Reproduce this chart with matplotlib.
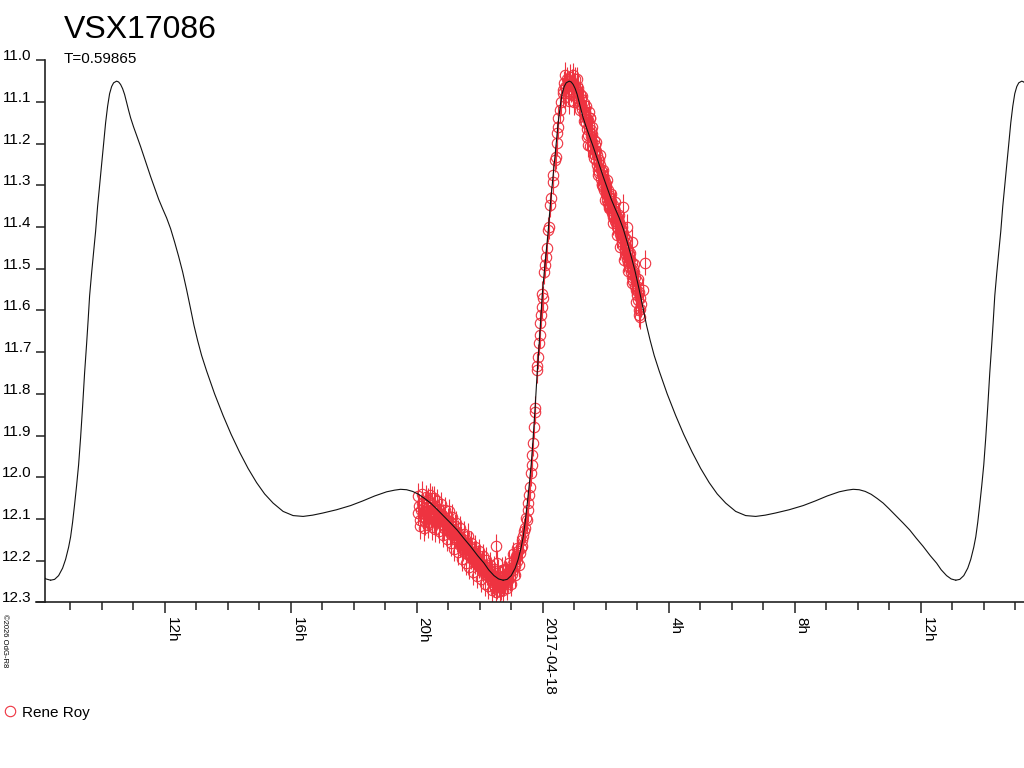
import numpy as np
import pandas as pd
import matplotlib
matplotlib.use("Agg")
import matplotlib.pyplot as plt
import matplotlib.dates as mdates
from matplotlib.lines import Line2D
from matplotlib.ticker import FuncFormatter

plt.rcParams["font.family"] = ["Liberation Sans", "DejaVu Sans"]

STAR = "VSX17086"
PERIOD_TXT = "T=0.59865"
OBSERVER = "Rene Roy"
COPYRIGHT = "\u00a92026 OdG-R8"
DAY0 = pd.Timestamp("2017-04-18 00:00")
RED = "#ee3340"

# model light curve over one cycle: hours after minimum, magnitude
cycle_h = [0.000, 0.127, 0.254, 0.381, 0.476, 0.571, 0.635, 0.698, 0.762, 0.825,
           0.889, 0.952, 1.016, 1.079, 1.143, 1.190, 1.238, 1.302, 1.365, 1.429,
           1.492, 1.556, 1.619, 1.683, 1.746, 1.810, 1.873, 1.937, 2.000, 2.095,
           2.159, 2.222, 2.286, 2.349, 2.413, 2.476, 2.540, 2.635, 2.730, 2.857,
           3.016, 3.175, 3.302, 3.429, 3.556, 3.683, 3.810, 3.937, 4.063, 4.190,
           4.317, 4.444, 4.552, 4.667, 4.794, 4.952, 5.206, 5.476, 5.730, 6.000,
           6.270, 6.540, 6.794, 7.063, 7.381, 7.698, 8.016, 8.317, 8.635, 9.079,
           9.524, 9.905, 10.286, 10.667, 10.921, 11.111, 11.302, 11.492, 11.683, 11.873,
           12.063, 12.254, 12.489, 12.698, 12.911, 13.111, 13.333, 13.556, 13.759, 13.905,
           14.076, 14.222, 14.368]
cycle_mag = [12.247, 12.245, 12.236, 12.218, 12.197, 12.168, 12.143, 12.108, 12.065, 12.020,
             11.970, 11.905, 11.830, 11.750, 11.680, 11.625, 11.565, 11.510, 11.460, 11.410,
             11.350, 11.300, 11.250, 11.200, 11.150, 11.110, 11.080, 11.063, 11.054, 11.050,
             11.052, 11.058, 11.068, 11.082, 11.101, 11.120, 11.138, 11.160, 11.180, 11.207,
             11.243, 11.279, 11.306, 11.333, 11.356, 11.378, 11.404, 11.436, 11.470, 11.507,
             11.550, 11.596, 11.636, 11.672, 11.708, 11.745, 11.800, 11.852, 11.897, 11.940,
             11.979, 12.013, 12.040, 12.062, 12.082, 12.092, 12.094, 12.091, 12.086, 12.078,
             12.068, 12.057, 12.045, 12.035, 12.031, 12.029, 12.030, 12.034, 12.041, 12.051,
             12.062, 12.076, 12.094, 12.110, 12.127, 12.146, 12.166, 12.188, 12.206, 12.222,
             12.236, 12.244, 12.247]
# times of minimum light, hours from 2017-04-18 00:00
minima_h = [-29.990, -15.622, -1.254, 13.114]

# observations (hours from 2017-04-18 00:00)
obs_h = [
    -3.96, -3.93, -3.90, -3.87, -3.84, -3.81, -3.78, -3.75, -3.72, -3.69,
    -3.66, -3.63, -3.60, -3.57, -3.54, -3.51, -3.48, -3.45, -3.42, -3.39,
    -3.36, -3.33, -3.30, -3.27, -3.24, -3.21, -3.18, -3.15, -3.12, -3.09,
    -3.06, -3.03, -3.00, -2.97, -2.94, -2.91, -2.88, -2.85, -2.82, -2.79,
    -2.76, -2.73, -2.70, -2.67, -2.64, -2.61, -2.58, -2.55, -2.52, -2.49,
    -2.46, -2.43, -2.40, -2.37, -2.34, -2.31, -2.28, -2.25, -2.22, -2.19,
    -2.16, -2.13, -2.10, -2.07, -2.04, -2.01, -1.98, -1.95, -1.92, -1.89,
    -1.86, -1.83, -1.80, -1.77, -1.74, -1.71, -1.68, -1.65, -1.62, -1.59,
    -1.56, -1.53, -1.495, -1.463, -1.50, -1.47, -1.44, -1.41, -1.38, -1.35,
    -1.32, -1.29, -1.26, -1.23, -1.20, -1.17, -1.14, -1.11, -1.08, -1.05,
    -1.02, -0.99, -0.96, -0.93, -0.90, -0.87, -0.84, -0.81, -0.78,
    -3.945, -3.885, -3.825, -3.765, -3.705, -3.645, -3.585, -3.525, -3.465, -3.405,
    -3.345, -3.285, -3.225, -3.165, -3.105, -3.045, -2.985, -2.925, -2.865, -2.805,
    -2.745, -2.685, -2.625, -2.565, -2.505, -2.445, -2.385, -2.325, -2.265, -2.205,
    -2.145, -2.085, -2.025, -1.965, -1.905, -1.845, -1.785, -1.725, -1.665, -1.605,
    -1.545, -1.485, -1.425, -1.365, -1.305, -1.245, -1.185, -1.125, -1.065, -1.005,
    -0.945, -0.885, -0.825, -0.765,
    -0.724, -0.70, -0.670, -0.66, -0.619, -0.60, -0.565, -0.54, -0.511, -0.479,
    -0.460, -0.438, -0.406, -0.375, -0.352, -0.333, -0.321, -0.270, -0.248, -0.241,
    -0.194, -0.175, -0.143, -0.121, -0.089, -0.079, -0.057, -0.035, -0.016, -0.003,
    0.038, 0.070, 0.102, 0.124, 0.175, 0.206, 0.229, 0.251, 0.314, 0.333,
    0.387, 0.410, 0.441, 0.460, 0.473, 0.492, 0.546, 0.578, 0.632, 0.705,
    0.66, 0.69, 0.72, 0.75, 0.78, 0.81, 0.84, 0.87, 0.90, 0.93,
    0.96, 0.99, 1.02, 1.05, 1.08, 1.11, 1.14, 1.17, 1.20, 1.23,
    1.26, 1.29, 1.32,
    0.70, 0.85, 0.95, 1.00, 1.10, 1.18, 1.25, 1.30,
    1.35, 1.37, 1.39, 1.41, 1.43, 1.45, 1.47, 1.50, 1.52, 1.54,
    1.56, 1.58, 1.60, 1.62, 1.64, 1.66, 1.68, 1.70, 1.72, 1.74,
    1.76, 1.78, 1.80, 1.82, 1.84, 1.86, 1.88, 1.90, 1.92, 1.94,
    1.96, 1.98, 2.00, 2.02, 2.04, 2.06, 2.08, 2.10, 2.12, 2.14,
    2.16, 2.18, 2.20, 2.22, 2.24, 2.26, 2.28, 2.30, 2.32, 2.34,
    2.36, 2.38, 2.40, 2.42, 2.44, 2.46, 2.48, 2.50, 2.52, 2.54,
    2.56, 2.58, 2.60, 2.62, 2.64, 2.66, 2.68, 2.70, 2.72, 2.74,
    2.76, 2.78, 2.80, 2.82, 2.84, 2.86, 2.88, 2.90, 2.92, 2.94,
    2.96, 2.98, 3.00, 3.02, 3.04, 3.06, 3.08, 3.10, 3.12,
    1.36, 1.40, 1.46, 1.51, 1.57, 1.63, 1.69, 1.75, 1.81, 1.87,
    1.93, 1.99, 2.05, 2.11, 2.17, 2.23, 2.29, 2.35, 2.41, 2.47,
    2.53, 2.59, 2.65, 2.71, 2.77, 2.83, 2.89, 2.95, 3.01, 3.07,
    1.444, 1.498, 2.556, 2.670, 2.822, 3.244, 3.190, 3.086, 3.050,
]
obs_mag = [
    12.085, 12.070, 12.102, 12.078, 12.062, 12.095, 12.074, 12.108, 12.066, 12.090,
    12.081, 12.055, 12.099, 12.075, 12.091, 12.050, 12.086, 12.097, 12.070, 12.105,
    12.080, 12.092, 12.076, 12.102, 12.088, 12.112, 12.094, 12.101, 12.121, 12.097,
    12.112, 12.126, 12.104, 12.119, 12.133, 12.110, 12.129, 12.124, 12.143, 12.118,
    12.138, 12.149, 12.133, 12.152, 12.143, 12.162, 12.147, 12.158, 12.172, 12.151,
    12.166, 12.181, 12.160, 12.175, 12.186, 12.170, 12.190, 12.180, 12.195, 12.183,
    12.203, 12.188, 12.198, 12.209, 12.193, 12.212, 12.203, 12.218, 12.207, 12.222,
    12.212, 12.231, 12.216, 12.228, 12.238, 12.222, 12.242, 12.232, 12.236, 12.251,
    12.240, 12.258, 12.165, 12.205, 12.244, 12.253, 12.262, 12.246, 12.257, 12.240,
    12.264, 12.250, 12.238, 12.256, 12.246, 12.232, 12.252, 12.238, 12.226, 12.242,
    12.218, 12.232, 12.210, 12.222, 12.198, 12.212, 12.190, 12.200, 12.178,
    12.045, 12.118, 12.040, 12.122, 12.048, 12.115, 12.043, 12.120, 12.050, 12.125,
    12.058, 12.128, 12.065, 12.138, 12.078, 12.148, 12.082, 12.158, 12.095, 12.172,
    12.110, 12.180, 12.122, 12.195, 12.135, 12.205, 12.140, 12.215, 12.158, 12.228,
    12.168, 12.236, 12.178, 12.245, 12.190, 12.255, 12.198, 12.262, 12.210, 12.270,
    12.220, 12.275, 12.225, 12.272, 12.222, 12.270, 12.220, 12.265, 12.205, 12.255,
    12.185, 12.235, 12.170, 12.210,
    12.182, 12.170, 12.166, 12.150, 12.142, 12.128, 12.122, 12.098, 12.102, 12.078,
    12.062, 12.042, 12.023, 11.990, 11.970, 11.947, 11.918, 11.879, 11.843, 11.835,
    11.744, 11.733, 11.711, 11.677, 11.659, 11.629, 11.611, 11.591, 11.560, 11.571,
    11.507, 11.491, 11.471, 11.451, 11.407, 11.399, 11.347, 11.331, 11.291, 11.275,
    11.239, 11.231, 11.199, 11.175, 11.159, 11.139, 11.119, 11.099, 11.079, 11.063,
    11.072, 11.055, 11.088, 11.064, 11.046, 11.078, 11.058, 11.040, 11.070, 11.052,
    11.083, 11.061, 11.045, 11.074, 11.090, 11.066, 11.098, 11.080, 11.105, 11.092,
    11.118, 11.100, 11.128,
    11.035, 11.098, 11.036, 11.100, 11.045, 11.120, 11.085, 11.145,
    11.125, 11.150, 11.135, 11.165, 11.142, 11.178, 11.155, 11.139, 11.182, 11.168,
    11.195, 11.176, 11.210, 11.190, 11.225, 11.204, 11.239, 11.218, 11.250, 11.228,
    11.262, 11.240, 11.271, 11.252, 11.285, 11.262, 11.296, 11.276, 11.303, 11.284,
    11.312, 11.293, 11.320, 11.302, 11.334, 11.312, 11.342, 11.322, 11.350, 11.330,
    11.358, 11.338, 11.367, 11.346, 11.376, 11.354, 11.385, 11.362, 11.390, 11.370,
    11.399, 11.378, 11.405, 11.388, 11.416, 11.396, 11.425, 11.404, 11.436, 11.414,
    11.446, 11.425, 11.455, 11.436, 11.466, 11.446, 11.477, 11.456, 11.487, 11.466,
    11.498, 11.476, 11.508, 11.486, 11.520, 11.497, 11.530, 11.508, 11.541, 11.519,
    11.552, 11.530, 11.562, 11.543, 11.575, 11.556, 11.596, 11.570, 11.585,
    11.110, 11.185, 11.125, 11.205, 11.160, 11.235, 11.195, 11.275, 11.228, 11.300,
    11.262, 11.335, 11.288, 11.355, 11.320, 11.390, 11.340, 11.420, 11.370, 11.448,
    11.400, 11.478, 11.428, 11.505, 11.462, 11.535, 11.488, 11.580, 11.525, 11.610,
    11.203, 11.139, 11.351, 11.399, 11.435, 11.486, 11.550, 11.615, 11.600,
]
obs_err = 0.03

y_ticks = [11.0, 11.1, 11.2, 11.3, 11.4, 11.5, 11.6, 11.7, 11.8, 11.9, 12.0, 12.1, 12.2, 12.3]
xlim_h = (-15.80, 15.28)


def hours(h):
    return DAY0 + pd.to_timedelta(np.asarray(h, dtype=float), unit="h")


def xfmt(x, pos):
    d = mdates.num2date(x)
    if d.hour == 0:
        return d.strftime("%Y-%m-%d")
    return f"{d.hour}h"


fig = plt.figure(figsize=(10.24, 7.68), dpi=100)
W, H = 1024, 768
ax = fig.add_axes([45 / W, 1 - 602.3 / H, 1 - 45 / W, (602.3 - 60.3) / H])

# model curve, one copy per cycle
for m in minima_h:
    ax.plot(hours(np.array(cycle_h) + m), cycle_mag, color="#111111", lw=0.8, zorder=3)

ax.errorbar(hours(obs_h), obs_mag, yerr=obs_err, fmt="o", mfc="none", mec=RED,
            ms=7.5, mew=0.8, ecolor=RED, elinewidth=0.8, capsize=0, zorder=2)

ax.set_xlim(hours(xlim_h[0]), hours(xlim_h[1]))
ax.set_ylim(12.3, 11.0)

for s in ("top", "right"):
    ax.spines[s].set_visible(False)
for s in ("left", "bottom"):
    ax.spines[s].set_linewidth(1.2)
    ax.spines[s].set_color("#222222")

ax.xaxis.set_major_locator(mdates.HourLocator(byhour=[0, 4, 8, 12, 16, 20]))
ax.xaxis.set_minor_locator(mdates.HourLocator())
ax.xaxis.set_major_formatter(FuncFormatter(xfmt))
ax.tick_params(axis="x", which="major", length=8, width=1.1, color="#222222",
               pad=2.5, labelsize=11, labelrotation=270)
ax.tick_params(axis="x", which="minor", length=6, width=1.1, color="#222222")
ax.set_yticks(y_ticks)
ax.yaxis.set_major_formatter(FuncFormatter(lambda v, p: f"{v:.1f}"))
ax.tick_params(axis="y", length=6.5, width=1.1, color="#222222", pad=3, labelsize=11)

for lab in ax.get_xticklabels():
    lab.set_ha("left")
for lab in ax.get_yticklabels():
    lab.set_va("baseline")

# x axis stub left of the y axis
fig.add_artist(Line2D([36 / W, 45 / W], [1 - 602.3 / H] * 2, color="#222222", lw=1.2))

fig.text(64 / W, 1 - 37.7 / H, STAR, fontsize=23, va="baseline", ha="left")
fig.text(64 / W, 1 - 63.3 / H, PERIOD_TXT, fontsize=11, va="baseline", ha="left")
fig.text(4 / W, 1 - 614 / H, COPYRIGHT, fontsize=5.5, rotation=270, ha="center", va="top")

handle = Line2D([], [], marker="o", ls="none", mfc="none", mec=RED, ms=7.5, mew=0.8)
fig.legend(handles=[handle], labels=[OBSERVER], loc="center left",
           bbox_to_anchor=(0, 1 - 712.5 / H), frameon=False, borderpad=0.15,
           borderaxespad=0, handlelength=1.0, handletextpad=0.27, fontsize=11)

fig.savefig("out.png", dpi=100)
